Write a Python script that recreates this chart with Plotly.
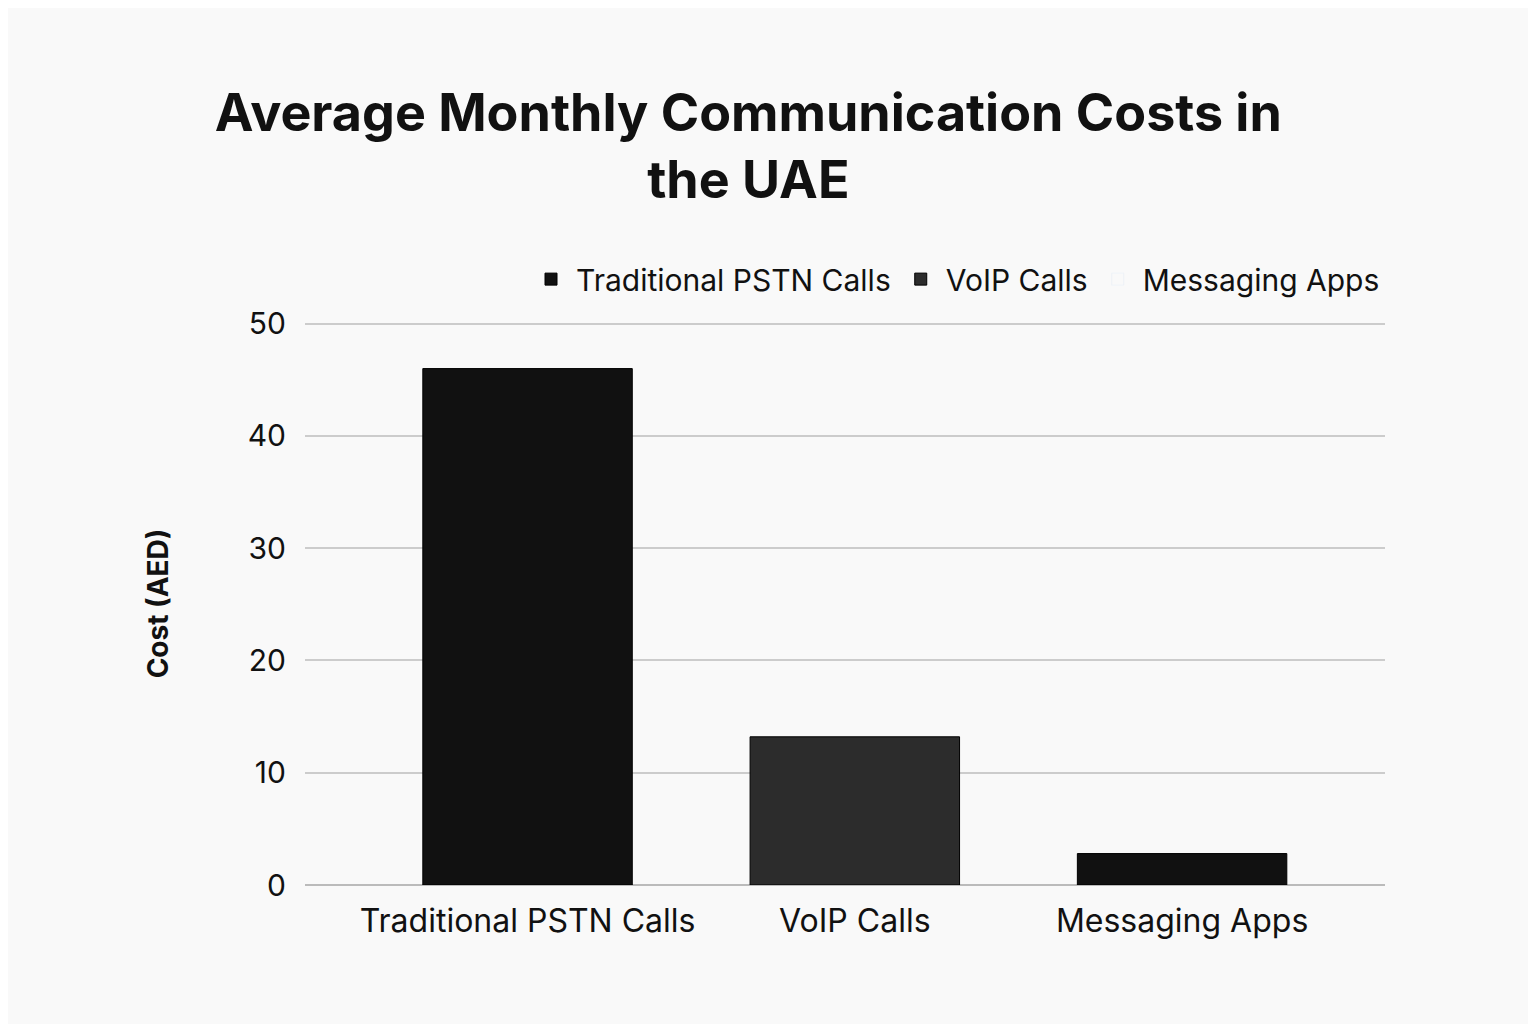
import plotly.graph_objects as go

categories = ["Traditional PSTN Calls", "VoIP Calls", "Messaging Apps"]
costs = [46, 13.2, 2.8]
colors = ["#111111", "#2c2c2c", "#111111"]

fig = go.Figure()
for i, (c, v) in enumerate(zip(categories, costs)):
    fig.add_trace(go.Bar(x=[c], y=[v], name=c, marker=dict(color=colors[i], line=dict(color="#000", width=1)),
                         width=0.64, showlegend=(i < 2)))
fig.add_trace(go.Bar(x=[categories[2]], y=[None], name=categories[2],
                     marker=dict(color="rgba(0,0,0,0)"), showlegend=True))

fig.update_layout(
    width=1536, height=1024,
    paper_bgcolor="#f9f9f9", plot_bgcolor="#f9f9f9",
    barmode="overlay",
    margin=dict(l=297, r=159, t=314, b=147),
    font=dict(family="Inter, Noto Sans, sans-serif", color="#111", size=30),
    title=dict(text="<b>Average Monthly Communication Costs in<br>the UAE</b>", x=0.482, xanchor="center",
               y=0.88, yanchor="middle", font=dict(size=52, color="#111")),
    legend=dict(orientation="h", x=1, xanchor="right", y=1.03, yanchor="bottom",
                font=dict(size=30), bgcolor="rgba(0,0,0,0)", itemwidth=40),
    xaxis=dict(showgrid=False, showline=False, ticks="", tickfont=dict(size=32),
               range=[-0.68, 2.62], ticklabelstandoff=14),
    yaxis=dict(range=[0, 50.15], dtick=10, gridcolor="#cccccc", gridwidth=1.5, zeroline=True,
               zerolinecolor="#bbbbbb", zerolinewidth=2, tickfont=dict(size=30), ticklabelstandoff=18,
               title=dict(text="<b>Cost (AED)</b>", font=dict(size=28), standoff=70)),
)
fig.write_html("out.html")
